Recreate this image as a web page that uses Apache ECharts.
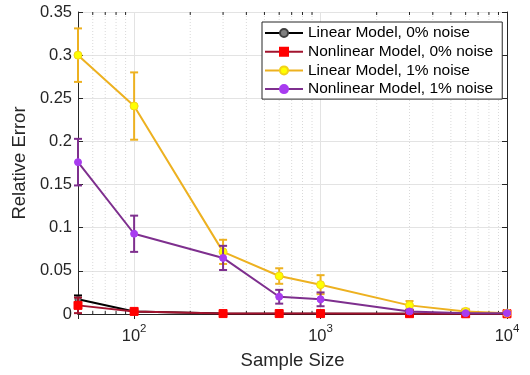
<!DOCTYPE html>
<html>
<head>
<meta charset="utf-8">
<script src="https://cdn.jsdelivr.net/npm/echarts@6/dist/echarts.min.js"></script>
<style>
  html, body { margin: 0; padding: 0; background: #fff; }
  #main { width: 530px; height: 375px; }
</style>
</head>
<body>
<div id="main"></div>
<script>
// sample sizes on the log x axis
var sampleSizes = [50, 100, 300, 600, 1000, 3000, 6000, 10000];
var minorTicks = [60, 70, 80, 90, 200, 300, 400, 500, 600, 700, 800, 900,
                  2000, 3000, 4000, 5000, 6000, 7000, 8000, 9000];
var yTicks = [0, 0.05, 0.1, 0.15, 0.2, 0.25, 0.3, 0.35];

// relative error, with half-width of the error bars
var linear0 = [0.017, 0.003, 0.0005, 0.0004, 0.0004, 0.0003, 0.0003, 0.0003];
var linear0Err = [0.0045, 0.001, 0.0003, 0.0002, 0.0002, 0.0002, 0.0002, 0.0002];
var nonlinear0 = [0.010, 0.003, 0.0005, 0.0005, 0.0005, 0.0004, 0.0003, 0.0003];
var nonlinear0Err = [0.009, 0.002, 0.0004, 0.0003, 0.0003, 0.0002, 0.0002, 0.0002];
var linear1 = [0.300, 0.241, 0.072, 0.044, 0.034, 0.010, 0.003, 0.001];
var linear1Err = [0.031, 0.039, 0.014, 0.009, 0.011, 0.005, 0.003, 0.001];
var nonlinear1 = [0.176, 0.093, 0.065, 0.020, 0.017, 0.003, 0.001, 0.001];
var nonlinear1Err = [0.027, 0.021, 0.014, 0.008, 0.008, 0.002, 0.001, 0.001];

var names = ['Linear Model, 0% noise', 'Nonlinear Model, 0% noise',
             'Linear Model, 1% noise', 'Nonlinear Model, 1% noise'];

var FONT = 'Liberation Sans, Arial, Helvetica, sans-serif';
var AX = '#262626';

var sets = [
  {name: names[0], val: linear0, err: linear0Err, line: '#000000', fill: '#808080', border: '#404040', symbol: 'circle', size: 6},
  {name: names[1], val: nonlinear0, err: nonlinear0Err, line: '#A2142F', fill: '#FF0000', border: '#FF0000', symbol: 'rect', size: 8},
  {name: names[2], val: linear1, err: linear1Err, line: '#EDB120', fill: '#FFFF00', border: '#F2D21A', symbol: 'circle', size: 8},
  {name: names[3], val: nonlinear1, err: nonlinear1Err, line: '#7E2F8E', fill: '#A83CF0', border: '#A83CF0', symbol: 'circle', size: 7}
];

function errorBarSeries(s, z) {
  return {
    type: 'custom',
    name: s.name + ' err',
    z: z,
    silent: true,
    encode: {x: 0, y: [1, 2]},
    data: sampleSizes.map(function (n, i) {
      return [n, s.val[i] - s.err[i], s.val[i] + s.err[i]];
    }),
    renderItem: function (params, api) {
      var x = api.value(0);
      var lo = api.coord([x, Math.max(api.value(1), 0)]);
      var hi = api.coord([x, api.value(2)]);
      var w = 4;
      var st = {stroke: s.line, lineWidth: 2};
      return {
        type: 'group',
        children: [
          {type: 'line', shape: {x1: lo[0], y1: lo[1], x2: hi[0], y2: hi[1]}, style: st},
          {type: 'line', shape: {x1: hi[0] - w, y1: hi[1], x2: hi[0] + w, y2: hi[1]}, style: st},
          {type: 'line', shape: {x1: lo[0] - w, y1: lo[1], x2: lo[0] + w, y2: lo[1]}, style: st}
        ]
      };
    }
  };
}

function lineSeries(s, z) {
  return {
    type: 'line',
    name: s.name,
    z: z,
    data: sampleSizes.map(function (n, i) { return [n, s.val[i]]; }),
    symbol: s.symbol,
    symbolSize: s.size,
    showAllSymbol: true,
    lineStyle: {color: s.line, width: 2},
    itemStyle: {color: s.fill, borderColor: s.border, borderWidth: 1},
    emphasis: {disabled: true},
    animation: false
  };
}

// dotted minor grid lines and minor ticks on the log axis
var minorGrid = {
  type: 'custom',
  name: 'minor',
  z: 1,
  silent: true,
  encode: {x: 0},
  data: minorTicks.map(function (v) { return [v]; }),
  renderItem: function (params, api) {
    var x = api.value(0);
    var b = api.coord([x, yTicks[0]]);
    var t = api.coord([x, yTicks[yTicks.length - 1]]);
    return {
      type: 'group',
      children: [
        {type: 'line', shape: {x1: b[0], y1: b[1], x2: t[0], y2: t[1]},
         style: {stroke: '#d9d9d9', lineWidth: 1, lineDash: [1, 2]}},
        {type: 'line', shape: {x1: b[0], y1: b[1], x2: b[0], y2: b[1] - 3},
         style: {stroke: AX, lineWidth: 1}},
        {type: 'line', shape: {x1: t[0], y1: t[1], x2: t[0], y2: t[1] + 3},
         style: {stroke: AX, lineWidth: 1}}
      ]
    };
  }
};

var series = [minorGrid];
sets.forEach(function (s, k) {
  series.push(errorBarSeries(s, 10 + 3 * k));
  series.push(lineSeries(s, 11 + 3 * k));
});

function logLabel(v) {
  var e = Math.log10(v);
  if (Math.abs(e - Math.round(e)) > 1e-6) return '';
  return '{b|10}{s|' + Math.round(e) + '}';
}

var chart = echarts.init(document.getElementById('main'), null, {renderer: 'canvas'});
chart.setOption({
  animation: false,
  backgroundColor: '#ffffff',
  textStyle: {fontFamily: FONT},
  grid: {left: 78, right: 23, top: 12, bottom: 57},
  legend: {
    data: names,
    orient: 'vertical',
    left: 262,
    top: 22,
    padding: [3, 9, 2, 2],
    itemGap: 2.7,
    itemWidth: 38,
    itemHeight: 10,
    backgroundColor: '#ffffff',
    borderColor: AX,
    borderWidth: 1,
    borderRadius: 0,
    textStyle: {fontFamily: FONT, fontSize: 15.5, color: '#000', lineHeight: 16},
    selectedMode: false
  },
  xAxis: [{
    type: 'log',
    logBase: 10,
    min: 50,
    max: 10000,
    name: 'Sample Size',
    nameLocation: 'middle',
    nameGap: 37,
    nameTextStyle: {fontFamily: FONT, fontSize: 18.5, color: AX},
    axisLine: {show: true, lineStyle: {color: AX, width: 1}},
    axisTick: {show: true, inside: true, length: 5, lineStyle: {color: AX}},
    axisLabel: {
      margin: 9,
      color: AX,
      formatter: logLabel,
      rich: {
        b: {fontFamily: FONT, fontSize: 16.5, color: AX, verticalAlign: 'bottom', lineHeight: 22},
        s: {fontFamily: FONT, fontSize: 11.5, color: AX, verticalAlign: 'top', lineHeight: 12}
      }
    },
    splitLine: {show: true, lineStyle: {color: '#e3e3e3', width: 1}},
    minorTick: {show: false}
  }, {
    type: 'log',
    logBase: 10,
    min: 50,
    max: 10000,
    position: 'top',
    axisLine: {show: true, lineStyle: {color: AX, width: 1}},
    axisTick: {show: true, inside: true, length: 5, lineStyle: {color: AX}},
    axisLabel: {show: false},
    splitLine: {show: false}
  }],
  yAxis: [{
    type: 'value',
    min: 0,
    max: 0.35,
    interval: 0.05,
    name: 'Relative Error',
    nameLocation: 'middle',
    nameRotate: 90,
    nameGap: 39,
    nameTextStyle: {fontFamily: FONT, fontSize: 18.5, color: AX},
    axisLine: {show: true, lineStyle: {color: AX, width: 1}},
    axisTick: {show: true, inside: true, length: 5, lineStyle: {color: AX}},
    axisLabel: {
      margin: 6,
      color: AX,
      fontFamily: FONT,
      fontSize: 16.5,
      formatter: function (v) { return String(Math.round(v * 100) / 100); }
    },
    splitLine: {show: true, lineStyle: {color: '#e3e3e3', width: 1}}
  }, {
    type: 'value',
    min: 0,
    max: 0.35,
    interval: 0.05,
    position: 'right',
    axisLine: {show: true, lineStyle: {color: AX, width: 1}},
    axisTick: {show: true, inside: true, length: 5, lineStyle: {color: AX}},
    axisLabel: {show: false},
    splitLine: {show: false}
  }],
  series: series
});
</script>
</body>
</html>
